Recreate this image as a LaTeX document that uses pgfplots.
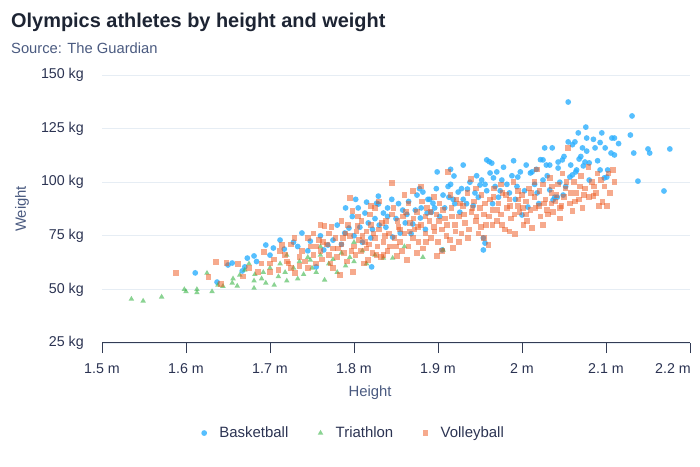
\documentclass[border=0pt]{standalone}
\usepackage{fontspec}
\setmainfont{Liberation Sans}
\usepackage{pgfplots}
\pgfplotsset{compat=1.18}

\definecolor{titlecol}{HTML}{1D2433}
\definecolor{subcol}{HTML}{4A5A80}
\definecolor{tickcol}{HTML}{2B3352}
\definecolor{axiscol}{HTML}{333C55}
\definecolor{gridcol}{HTML}{E6EDF4}
\definecolor{bball}{HTML}{2CAFFE}
\definecolor{tri}{HTML}{3CB54A}
\definecolor{vball}{HTML}{ED561B}

\begin{document}
\begin{tikzpicture}
\path[use as bounding box] (0,0) rectangle (700bp,467bp);
\node[anchor=base west, inner sep=0pt, text=titlecol, font=\fontsize{20}{24}\selectfont\bfseries]
  at (11bp,439bp) {Olympics athletes by height and weight};
\node[anchor=base west, inner sep=0pt, text=subcol, font=\fontsize{14.8}{17}\selectfont]
  at (11bp,413bp) {Source: The Guardian};

\begin{axis}[
  at={(102bp,124bp)}, anchor=south west,
  scale only axis, width=588bp, height=268bp,
  xmin=1.5, xmax=2.2, ymin=25, ymax=150,
  xtick={1.5,1.6,1.7,1.8,1.9,2,2.1},
  extra x ticks={2.2},
  extra x tick style={xticklabel style={anchor=north east, xshift=1bp}},
  ytick={25,50,75,100,125,150},
  xticklabel={\pgfmathprintnumber{\tick} m},
  yticklabel={\pgfmathprintnumber{\tick} kg},
  /pgf/number format/assume math mode=true,
  axis lines*=left,
  separate axis lines,
  x axis line style={draw=axiscol, line width=1bp},
  y axis line style={draw=none},
  xtick pos=bottom, ytick pos=left,
  tick align=outside,
  major tick length=10bp,
  xtick style={draw=axiscol, line width=1bp},
  ytick style={draw=none},
  ymajorgrids,
  major grid style={draw=gridcol, line width=0.8bp},
  tick label style={font=\fontsize{14.3}{16}\selectfont, text=tickcol},
  xticklabel style={inner sep=0pt, yshift=-10bp},
  yticklabel style={inner sep=0pt, xshift=-8bp},
  xlabel={Height}, ylabel={Weight},
  label style={font=\fontsize{14.9}{17}\selectfont, text=subcol},
  xlabel style={at={(axis description cs:0.456,-0.185)}, anchor=center, inner sep=0pt},
  ylabel style={at={(axis description cs:-0.136,0.5)}, anchor=center, rotate=0, inner sep=0pt},
  legend style={at={(axis description cs:0.168,-0.336)}, anchor=west,
    draw=none, fill=none, inner sep=0pt, legend columns=3,
    font=\fontsize{15}{17}\selectfont, text=tickcol,
    nodes={inner sep=0pt},
    /tikz/every odd column/.append style={column sep=12bp},
    /tikz/every even column/.append style={column sep=29bp}},
  legend image code/.code={\path (-3bp,0bp) (3bp,0bp);\draw[#1] plot coordinates {(0bp,0bp)};},
]

% Basketball
\addplot[only marks, mark=*, mark size=2.9bp, color=bball,
  mark options={draw opacity=0, line width=0pt, fill=bball, fill opacity=0.8}] table {
1.611 57.7
1.637 53.4
1.650 61.4
1.655 62.3
1.667 58.6
1.670 60.5
1.673 64.6
1.681 65.6
1.684 63.0
1.695 70.7
1.704 69.3
1.717 68.8
1.738 76.3
1.748 72.5
1.755 60.5
1.764 68.4
1.769 70.7
1.775 73.0
1.789 76.3
1.794 78.6
1.807 79.0
1.813 85.6
1.815 90.7
1.829 93.5
1.829 89.8
1.821 60.5
1.827 90.2
1.835 85.6
1.817 81.0
1.846 74.4
1.855 76.3
1.861 81.0
1.870 80.5
1.879 83.3
1.887 85.6
1.892 86.0
1.882 95.4
1.899 104.8
1.919 102.9
1.924 95.4
1.935 96.8
1.944 95.0
1.950 98.7
1.958 110.4
1.962 104.3
1.905 68.4
1.894 90.2
1.913 93.0
1.954 68.4
1.961 109.6
1.964 108.9
1.970 104.8
1.976 101.0
2.027 116.0
2.036 116.0
2.055 118.8
2.063 118.8
2.025 110.4
2.033 108.0
2.043 106.6
2.048 110.4
1.998 104.8
2.012 104.8
2.042 93.0
2.037 91.7
2.000 84.7
1.954 74.0
1.956 71.6
2.055 137.4
2.131 130.9
2.076 125.7
2.129 122.0
2.067 123.0
2.095 123.0
2.107 120.6
2.110 120.6
2.060 117.5
2.077 120.6
2.087 116.0
2.099 116.0
2.093 118.5
2.106 113.6
2.110 112.7
2.077 114.5
2.133 113.6
2.150 115.5
2.152 113.6
2.176 115.5
2.068 110.8
2.075 109.4
2.080 109.0
2.073 107.6
2.064 104.8
2.093 105.7
2.102 105.7
2.101 102.4
2.080 101.0
2.138 100.5
2.169 95.9
2.060 103.4
2.098 102.0
2.007 88.4
2.018 95.0
2.025 101.0
2.033 96.4
2.039 93.0
2.049 94.0
2.010 104.3
1.995 102.4
2.057 102.4
2.065 105.7
2.029 108.0
2.043 109.4
1.760 75
1.780 80
1.785 71
1.798 84
1.800 75
1.805 88
1.810 72
1.822 78
1.825 83
1.838 79
1.840 88
1.845 92
1.850 83
1.858 87
1.865 91
1.868 76
1.875 94
1.880 88
1.885 78
1.890 92
1.898 97
1.902 84
1.908 88
1.915 99
1.920 90
1.926 86
1.930 92
1.938 100
1.942 89
1.948 93
1.952 101
1.958 96
1.965 90
1.968 98
1.972 93
1.978 107
1.982 99
1.985 95
1.990 110
1.992 92
2.003 96
2.015 99
2.020 90
2.022 110.5
2.045 100
2.052 98
2.070 112
2.085 120
1.728 72
1.745 68
1.700 66
1.712 73
1.733 70
1.790 88
1.802 92
1.830 80
1.840 84
1.853 90
1.863 85
1.873 87
1.878 97
1.888 92
1.896 88
1.906 94
1.912 98
1.918 92
1.928 97
1.934 90
1.946 103
1.956 99
1.966 102
1.974 96
1.988 103
1.994 98
2.005 108
2.017 106
2.030 103
2.050 112
2.058 108
2.072 116
2.090 110
2.115 118
1.930 108
1.915 106
1.820 74
};
\addlegendentry{Basketball}

% Triathlon
\addplot[only marks, mark=triangle*, mark size=3.2bp, color=tri,
  mark options={draw opacity=0, line width=0pt, fill=tri, fill opacity=0.6}] table {
1.535 45.5
1.549 44.6
1.571 46.5
1.598 50.0
1.600 49.0
1.613 50.0
1.613 48.5
1.631 49.0
1.625 57.6
1.638 52.0
1.644 51.5
1.655 53.0
1.656 55.0
1.661 51.6
1.664 56.7
1.670 59.0
1.675 62.0
1.681 50.6
1.681 54.0
1.682 57.0
1.690 55.0
1.692 58.0
1.695 53.0
1.700 60.0
1.705 52.0
1.710 56.0
1.712 62.0
1.718 58.0
1.720 54.0
1.728 60.0
1.733 55.0
1.735 63.0
1.740 57.0
1.745 65.0
1.748 63.7
1.750 60.0
1.755 58.0
1.760 66.0
1.765 54.4
1.770 62.0
1.775 64.0
1.780 58.0
1.785 67.0
1.790 61.0
1.795 65.0
1.800 63.0
1.810 68.0
1.815 62.0
1.825 66.0
1.835 64.6
1.846 64.6
1.860 70.0
1.882 65.0
1.906 68.4
1.720 66.0
1.760 70.0
1.800 72.0
};
\addlegendentry{Triathlon}

% Volleyball
\addplot[only marks, mark=square*, mark size=2.8bp, color=vball,
  mark options={draw opacity=0, line width=0pt, fill=vball, fill opacity=0.5}] table {
1.588 57.6
1.627 55.8
1.636 62.8
1.642 52.5
1.648 62.3
1.662 61.8
1.686 58.0
1.693 67.4
1.700 62
1.705 64
1.710 59
1.714 70.7
1.718 66
1.722 62
1.725 60
1.729 74.0
1.730 57.6
1.735 65
1.738 68
1.742 63
1.745 60.0
1.748 70
1.752 66
1.755 62
1.758 73
1.760 68
1.762 64
1.765 79.6
1.768 71
1.770 66
1.772 62
1.775 69
1.778 74
1.780 65
1.783 56.7
1.785 71
1.788 67
1.790 76
1.792 63
1.795 92.6
1.798 86.6
1.799 58.0
1.800 70
1.802 66
1.804 79.6
1.806 73
1.808 68
1.810 75
1.812 62
1.815 77
1.817 63.7
1.818 71
1.820 80
1.822 67
1.825 74
1.828 70
1.830 78
1.832 65
1.835 72
1.838 82
1.840 68
1.842 76
1.845 99.6
1.848 74
1.850 70
1.851 65.6
1.853 79
1.855 72
1.858 84
1.860 76
1.863 63.7
1.865 70
1.867 81
1.870 74
1.872 78
1.875 86
1.877 72
1.880 80
1.882 69
1.885 76
1.887 88
1.890 82
1.892 74
1.895 79
1.898 85
1.899 65.6
1.900 72
1.902 90
1.905 78
1.908 83
1.910 75
1.912 104.8
1.914 73
1.916 88
1.918 69.3
1.920 80
1.922 92
1.925 84
1.928 76
1.930 89
1.932 81
1.935 95
1.937 78
1.939 101.5
1.940 86
1.943 91
1.945 82
1.948 76
1.950 88
1.952 94
1.955 85
1.957 80
1.960 70.7
1.962 92
1.965 87
1.967 97
1.970 82
1.972 90
1.975 85
1.977 95
1.980 78
1.982 88
1.985 92
1.987 83
1.990 100
1.992 75.8
1.995 89
1.997 86
2.000 94
2.002 80
2.005 91
2.008 97
2.010 87
2.012 78.6
2.015 93
2.018 106
2.020 89
2.022 84
2.025 99
2.028 92
2.030 87
2.033 102
2.035 95
2.037 86
2.040 91
2.043 99
2.045 88
2.048 104
2.050 93
2.052 97
2.055 116
2.057 90
2.060 86.5
2.062 100
2.065 95
2.068 92
2.070 103
2.072 88
2.075 97
2.079 107
2.080 93
2.083 100
2.085 93.5
2.088 95
2.090 104
2.092 89
2.096 90.7
2.098 98
2.101 89
2.103 104
2.105 95
2.108 105.7
2.110 100
1.760 80
1.770 76
1.785 82
1.795 75
1.805 84
1.815 69
1.825 88
1.835 66
1.845 85
1.855 78
1.865 90
1.875 67
1.885 84
1.895 93
1.905 68
1.915 94
1.925 72
1.945 97
1.955 74
1.965 80
1.975 99
1.985 77
1.995 96
2.005 85
2.015 100
2.025 80
2.035 90
2.045 83
1.700 58
1.712 68
1.725 71
1.735 61
1.745 74
1.755 70
1.775 60
1.720 63
1.690 62
1.675 60
1.668 56
1.752 76
1.763 72
1.773 79
1.781 69
1.787 74
1.793 80
1.797 68
1.803 77
1.809 82
1.813 72
1.819 85
1.823 76
1.827 66
1.833 81
1.837 75
1.843 70
1.847 88
1.852 82
1.857 68
1.862 86
1.866 77
1.871 83
1.876 79
1.881 91
1.886 72
1.891 86
1.896 77
1.901 82
1.906 87
1.911 80
1.917 84
1.921 77
1.926 90
1.931 85
1.936 74
1.941 88
1.946 84
1.951 79
1.956 90
1.961 84
1.966 93
1.971 87
1.976 80
1.981 94
1.986 89
1.991 85
1.996 92
2.001 88
2.006 82
2.011 95
2.016 88
2.021 96
2.026 90
2.031 85
2.036 98
2.041 94
2.047 89
2.053 100
2.058 95
2.063 91
2.069 98
2.074 94
2.086 98
2.094 101
1.870 96
1.880 98
1.860 94
1.830 91
1.820 89
};
\addlegendentry{Volleyball}
\end{axis}
\end{tikzpicture}
\end{document}
